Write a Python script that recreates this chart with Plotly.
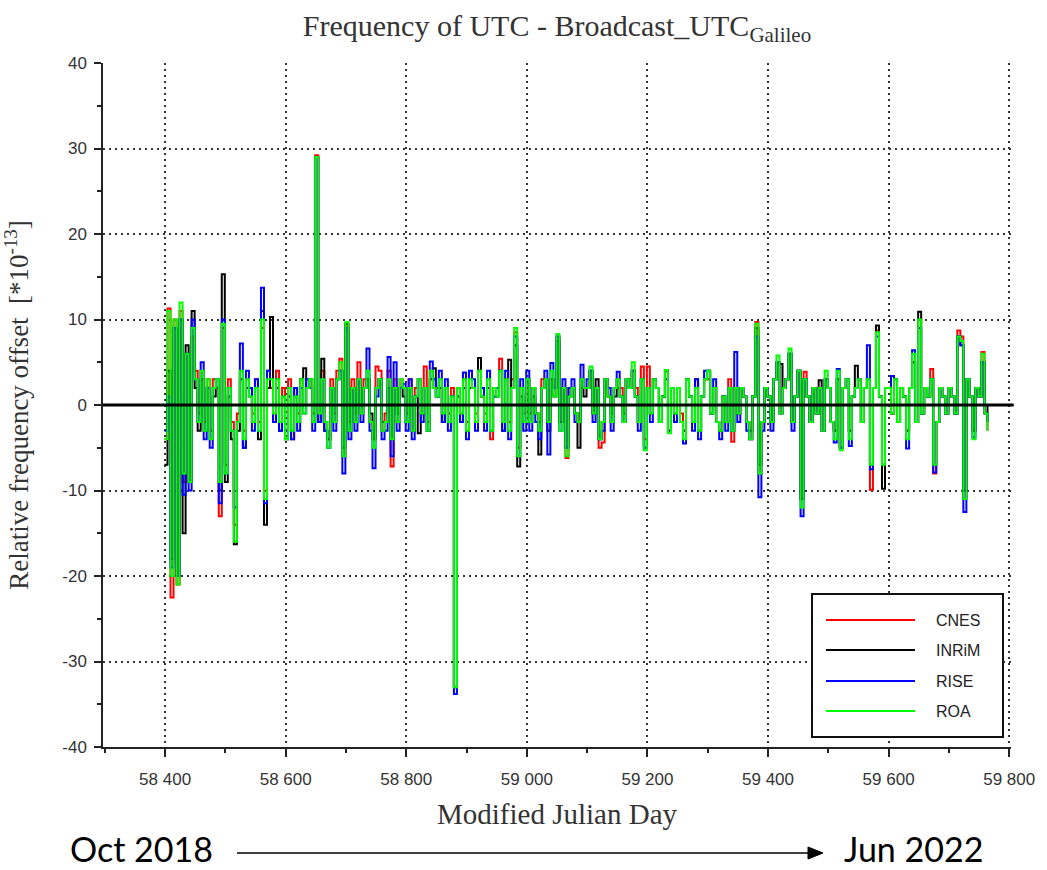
import plotly.graph_objects as go

# ---------------- data ----------------
MJD_START = 58399
MJD_STEP = 5

cnes = [
    -4, 11.3, -22.5, 10, -21, 11, -9, 6, -9, 8,
    4, -1, 4, -2, 3, -3, 3, 3, -13, 9,
    -7, 3, -2, -14, -1, 4, -3, 3, 2, -1,
    3, -2, 9, -10, 4, 2, -1, 4, -2, 2,
    -3, 3, -4, 2, -1, 3, 0, 2, 3, -1,
    29.2, -1, 4, -2, -4, 3, -1, 4, 5.4, -6,
    9.5, -2, 3, -1, 5, -1, 3, 3, -2, -4,
    4.5, 4, -3, -1, 4, -7.2, 3, -2, 3, 2,
    -1, 3, -3, 2, 3, -1, 4.5, -2, 3, 2,
    2, 3, -1, 2, -1, 2, -33, 2, -1, 3,
    -2, 3, 2, -1, 4, 1, -1, 3, -4, 2,
    2, 5.4, -2, 3, -2, 3, 8.5, -5, 2, -1,
    3, -1, 2, -1, -2, 3, 3, -2, 3, 2,
    8, -2, 2, -6.2, 2, 2, -1, -2, 3, 2,
    2, 4, -1, 2, -5, -4.4, 3, 1, -1, 2,
    3, 2, -1, 3, 2, 4, 2, -2, 4.5, -4,
    4.5, -1, 3, 2, -2, 1, 4, -3, 2, -1,
    2, -1, -3, 3, 1, -2, 2, -3, 1, 3,
    3, -1, 2, -2, -3, 1, -2, 3, -4.3, 2,
    -1, 2, 1, -2, -4, 1, 9.7, -8, -2, 2,
    1, -2, 3, 5, -1, 2, 3, 6, -2, 1,
    4, -11, 3.9, 1, -2, 2, -1, 2, -3, 3,
    2, -2, -3, 3, -5, 2, 3, -3, 1, 2,
    3, -2, 2, 3, -9.9, 2, 8.7, 1, -7, 2,
    2, -1, 3, -2, 2, 1, -3, 2, 5, -2,
    10, -1, 2, 1, 4.2, -8, -2, 2, 1, -1,
    2, 1, -1, 8.7, 8, -11, 3, 1, -3, 2,
    1, 6.2, -1, -3,
]

inrim = [
    -7, 4, -18, 9, -20, 10, -15, 7, -9, 11,
    2, -3, 3, -3, 2, -4, 1, 2, -10, 15.3,
    -9, 1, -4, -16.3, -3, 3, -5, 2, 1, -2,
    2, -4, 11, -14, 2, 10.3, -2, 3, -3, 1,
    -4, 1, -3, 1, -2, 3, 4.3, 2, 3, -2,
    29, -2, 5.4, -3, -4, 2, -2, 3, 4, -5,
    9.5, -3, 2, -2, 3, 0, 2, 3, -1, -4,
    2, 3, -2, -2, 2, -4, 2, -1, 2, 1,
    -2, 2, -3, 1, -3.3, -1, 2, -3, 3, 4.3,
    1, 2, -2, 2, -2, 1, -33, 1, -2, 2,
    -3, 2, 2, -2, 5.5, 1, -2, 2, -3, 2,
    1, 4, -3, 3, 5.3, 2, 7, -7.2, 1, -2,
    3, -2, 1, -1, -5.8, 2, 3, -3, 3, 1,
    7.5, -2, 2, -5, 1, 2, -1, -5, 2, 1,
    2, 4, -1, 3, -4, -2, 3, 1, -2, 1,
    2, 1, -2, 3, 2, 4, 1, -2, 3, -5,
    2, -1, 3, 2, -2, 1, 4, -3, 2, -1,
    2, -2, -3, 3, 1, -2, 3, -3, 1, 3,
    4, -1, 2, -2, -3, 1, -2, 2, -3, 2,
    -1, 2, 1, -2, -3, 1, 9, -7, -2, 2,
    1, -2, 3, 5, 4.8, 2, 3, 6, -2, 1,
    4, -11, 3, 1, -2, 2, -1, 2.9, -3, 3,
    2, -2, -3, 3, -5, 2, 3, -3, 1, 4.6,
    3, -2, 2, 3, -7, 2, 9.3, 1, -9.8, 2,
    2, -1, 3, -2, 2, 1, -3, 2, 5, -2,
    10.9, -1, 2, 1, 3, -7, -2, 2, 1, -1,
    2, 1, -1, 8, 7, -10, 3, 1, -3, 2,
    1, 5, 0, -2,
]

rise = [
    -3, 1, -19, 9, -20, 10, -10.5, 6, -10, 10,
    3, -2, 5, -4, 2, -5, 2, 3, -11.5, 10,
    -8, 2, -3, -12, -2, 7.2, -5, 4, 2, -3,
    3, -3, 13.7, -11.5, 4, 3, -2, 2, -3, 0,
    -3, 2, -4, 2, -3, 2, -1, 3, 2, -3,
    29, -2, 3, -3, -5, 2, -3, 3, 4, -8,
    9, -4, 2, -3, 3, -2, 2, 6.6, -3, -7.4,
    1, 3, -4, -3, 5.6, -6, 5, -3, 2, 2.5,
    -3, 3, -4, 1, 3, -2, 2, -3, 5.1, 3,
    1, 4, -2, 3, -3, 1, -33.8, 2, -2, 3.8,
    -4, 4, 3, -3, 4, 2, -3, 4, -3, 1,
    2, 4, -3, 4, -4, 2, 8, -6, 3, -3,
    4, -3, 2, -2, -4, 2, 4, -5.8, 4.9, 2,
    8, -3, 3, -5, 2, 3, -2, -2, 4.7, 2,
    3, 4, -2, 2, -4, -3, 3, 2, -3, 2,
    3.9, 1, -2, 3, 2, 4, 1, -3, 3, -5,
    2, -2, 3, 2, -2, 1, 3, -3, 2, -2,
    2, -2, -4.5, 3, 1, -3, 3, -4, 1, 4,
    4, -1, 3, -2, -4, 1, -3, 2, -3, 6.2,
    -2, 2, 1, -3, -4, 1, 8, -10.8, -3, 2,
    1, -3, 3, 5, -1, 2, 3, 6, -3, 1,
    4, -13, 3, 1, -2, 2, -1, 2, -3, 3,
    2, -2, -4.4, 4.2, -5, 2, 3, -4.8, 1, 2,
    3, -2, 2, 7, -7.5, 2, 8, 1, -7, 2,
    2, 3.4, 3, -2, 2, 1, -5.1, 2, 6.4, -2,
    9, -1, 2, 1, 3, -7.9, -2, 2, 1, -1,
    2, 1, -1, 8, 7, -12.5, 3, 1, -3.8, 2,
    1, 5, -1, -2,
]

roa = [
    -4, 11, -20, 10, -21, 12, -8, 6, -9, 9,
    3, -2, 4, -3, 3, -4, 2, 3, -9, 9.5,
    -8, 2, -3, -16, -2, 4, -4, 3, 1, -2,
    2, -3, 10, -11, 3, 3, -1, 3, -2, 1,
    -4, 2, -3, 1, -2, 3, -1, 2, 3, -2,
    29, -1, 3, -2, -5, 2, -2, 3, 5, -6,
    9.7, -3, 2, -2, 3, -1, 2, 4, -2, -5,
    2, 3, -3, -2, 3, -4, 2, -2, 3, 2,
    -2, 2, -3, 1, 3, -1, 2, -3, 4, 2,
    1, 3, -1, 2, -2, 1, -33, 2, -1, 3,
    -3, 3, 2, -2, 4, 1, -2, 3, -3, 2,
    1, 4, -2, 3, -3, 2, 9, -6, 2, -2,
    3, -2, 2, -1, -3, 2, 3, -2, 4, 1,
    8.3, -3, 2, -6, 1, 2, -1, -2, 3, 2,
    2, 4.5, -1, 2, -4, -2, 3, 1, -2, 2,
    3, 1, -2, 3, 2, 5, 1, -2, 3, -5.3,
    2, -1, 3, 2, -2, 1, 4.1, -3.3, 2, -1,
    2, -2, -4, 3, 1, -2, 2, -3, 1, 3,
    4, -1, 2, -2, -3, 1, -2, 2, -3, 2,
    -1, 2, 1, -2, -4, 1, 9.5, -8, -2, 2,
    1, -2, 3, 5.8, -1, 2, 3, 6.6, -2, 1,
    4, -12, 3, 1, -2, 2, -1, 2, -3, 4,
    2, -2, -4, 4, -5.3, 2, 3, -4, 1, 2,
    3, -2, 2, 3, -7, 2, 8.5, 1, -7, 2,
    2, -1, 3, -2, 2, 1, -4, 2, 6, -2,
    10, -1, 2, 1, 3, -7, -2, 2, 1, -1,
    2, 1, -1, 8, 7.5, -11, 3, 1, -4, 2,
    1, 6, -1, -3,
]

series_names = ["CNES", "INRiM", "RISE", "ROA"]
series_values = [cnes, inrim, rise, roa]
series_colors = ["#ff0000", "#000000", "#0000ff", "#00ff00"]

x_tickvals = [58400, 58600, 58800, 59000, 59200, 59400, 59600, 59800]
x_ticktext = ["58 400", "58 600", "58 800", "59 000", "59 200", "59 400", "59 600", "59 800"]
y_tickvals = [-40, -30, -20, -10, 0, 10, 20, 30, 40]
y_ticktext = ["-40", "-30", "-20", "-10", "0", "10", "20", "30", "40"]

span_start_label = "Oct 2018"
span_end_label = "Jun 2022"

mjd = [MJD_START + MJD_STEP * i for i in range(len(roa))]

# ---------------- figure ----------------
W, H = 1047, 870
L, R, T, B = 103, 36, 63, 123
PW, PH = W - L - R, H - T - B


def px_x(p):
    return (p - L) / PW


def px_y(p):
    return (H - B - p) / PH


fig = go.Figure()
for name, vals, color in zip(series_names, series_values, series_colors):
    fig.add_trace(go.Scatter(
        x=mjd, y=vals, mode="lines", name=name, showlegend=False,
        line=dict(color=color, width=2, shape="hv"),
    ))

serif = "Liberation Serif"
sans = "Liberation Sans"
grid = dict(showgrid=True, gridcolor="#333333", gridwidth=1.5, griddash="2px,4px")

fig.update_layout(
    width=W, height=H,
    margin=dict(l=L, r=R, t=T, b=B, autoexpand=False),
    paper_bgcolor="white", plot_bgcolor="white",
    title=dict(
        text="Frequency of UTC - Broadcast_UTC<sub>Galileo</sub>",
        font=dict(family=serif, size=30, color="#333333"),
        x=0.5, xref="paper", xanchor="center",
        y=1 - 25 / H, yref="container", yanchor="middle",
    ),
    xaxis=dict(
        range=[58297, 59803], tickvals=x_tickvals, ticktext=x_ticktext,
        ticks="outside", ticklen=8, tickwidth=1.5, tickcolor="#222",
        tickfont=dict(family=sans, size=17, color="#333333"),
        ticklabelstandoff=8,
        showline=True, linecolor="#222", linewidth=1.5, mirror=False,
        zeroline=False,
        minor=dict(dtick=100, tick0=58300, ticks="outside", ticklen=4, tickcolor="#222", showgrid=False),
        title=dict(text="Modified Julian Day", font=dict(family=serif, size=29, color="#333333"), standoff=16),
        **grid,
    ),
    yaxis=dict(
        range=[-40, 40], tickvals=y_tickvals, ticktext=y_ticktext,
        ticks="outside", ticklen=7, tickwidth=1.5, tickcolor="#222",
        tickfont=dict(family=sans, size=17, color="#333333"),
        ticklabelstandoff=4,
        showline=True, linecolor="#222", linewidth=1.5, mirror=False,
        zeroline=False,
        minor=dict(dtick=5, ticks="outside", ticklen=4, tickcolor="#222", showgrid=False),
        title=dict(text="Relative frequency offset  [*10<sup>-13</sup>]",
                   font=dict(family=serif, size=27, color="#333333"), standoff=28),
        **grid,
    ),
)

# thick zero line above the traces
fig.add_shape(type="line", xref="paper", yref="y", x0=0, x1=1.003, y0=0, y1=0,
              line=dict(color="black", width=3), layer="above")

# legend box drawn like the original (long line samples)
fig.add_shape(type="rect", xref="paper", yref="paper",
              x0=px_x(812), x1=px_x(1003), y0=px_y(737), y1=px_y(594),
              line=dict(color="#111", width=2), fillcolor="white", layer="above")
legend_rows = [620, 650, 681, 711]
for name, color, row in zip(series_names, series_colors, legend_rows):
    fig.add_shape(type="line", xref="paper", yref="paper",
                  x0=px_x(826), x1=px_x(915), y0=px_y(row), y1=px_y(row),
                  line=dict(color=color, width=2), layer="above")
    fig.add_annotation(text=name, xref="paper", yref="paper", x=px_x(934), y=px_y(row),
                       xanchor="left", yanchor="middle", showarrow=False,
                       font=dict(family=sans, size=16, color="#222"))

# bottom time-span annotation: labels, arrow shaft and arrow head
fig.add_annotation(text=span_start_label, xref="paper", yref="paper", x=px_x(68), y=px_y(848),
                   xanchor="left", yanchor="middle", showarrow=False,
                   font=dict(family="Lato", size=34, color="black"))
fig.add_annotation(text=span_end_label, xref="paper", yref="paper", x=px_x(842), y=px_y(848),
                   xanchor="left", yanchor="middle", showarrow=False,
                   font=dict(family="Lato", size=34, color="black"))
fig.add_shape(type="line", xref="paper", yref="paper",
              x0=px_x(237), x1=px_x(810), y0=px_y(853), y1=px_y(853),
              line=dict(color="black", width=1.5))
ax0, ax1 = px_x(808), px_x(823)
ay_top, ay_mid, ay_bot = px_y(847), px_y(853), px_y(859)
fig.add_shape(type="path", xref="paper", yref="paper",
              path=f"M {ax0} {ay_top} L {ax1} {ay_mid} L {ax0} {ay_bot} Z",
              fillcolor="black", line=dict(color="black", width=1))

fig.write_html("out.html")
